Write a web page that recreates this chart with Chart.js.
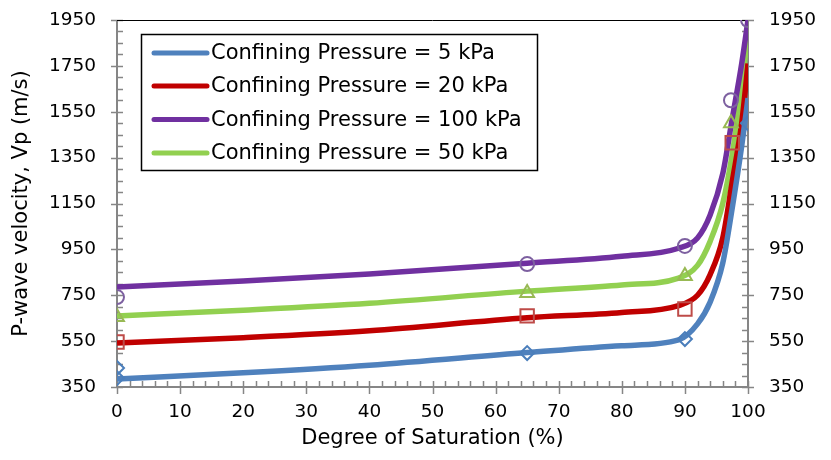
<!DOCTYPE html>
<html><head><meta charset="utf-8">
<script src="https://cdn.jsdelivr.net/npm/chart.js@4/dist/chart.umd.min.js"></script>
<style>html,body{margin:0;padding:0;background:#fff;} canvas{display:block;}</style>
</head><body>
<canvas id="c" width="831" height="460"></canvas>
<script>
// ---- data ----
const seriesLabels = ['Confining Pressure = 5 kPa', 'Confining Pressure = 20 kPa', 'Confining Pressure = 100 kPa', 'Confining Pressure = 50 kPa'];
const curveX    = [0, 20, 40, 65, 80, 89, 92, 94, 96, 97.5, 99, 100];
const curve5    = [385, 412, 445, 500, 530, 555, 625, 720, 890, 1130, 1400, 1610];
const curve20   = [542, 565, 595, 652, 675, 705, 750, 840, 1000, 1245, 1500, 1760];
const curve100  = [786, 812, 843, 890, 920, 955, 1000, 1100, 1280, 1520, 1760, 1950];
const curve50   = [660, 685, 715, 768, 795, 825, 880, 985, 1150, 1365, 1660, 1895];
const meas5X    = [0, 0, 65, 90, 100];
const meas5Y    = [433, 389, 498, 559, 1500];
const meas20X   = [0, 65, 90, 97.5];
const meas20Y   = [546, 660, 690, 1415];
const meas100X  = [0, 65, 90, 97.3, 100];
const meas100Y  = [742, 886, 965, 1600, 1950];
const meas50X   = [0, 65, 90, 97.3];
const meas50Y   = [655, 760, 834, 1500];
const xTickValues = [0, 10, 20, 30, 40, 50, 60, 70, 80, 90, 100];
const yTickValues = [350, 550, 750, 950, 1150, 1350, 1550, 1750, 1950];
const xTitle = 'Degree of Saturation (%)';
const yTitle = 'P-wave velocity, Vp (m/s)';

const FONT = '"DejaVu Sans"';
const FSIZE = 18.5;
const TSIZE = 21;
const pts = (xs, ys) => xs.map((x, i) => ({x, y: ys[i]}));
const lineColors = ['#4f81bd', '#c00000', '#7030a0', '#92d050'];
const markColors = ['#4a7ebb', '#be4b48', '#7d60a0', '#98b954'];

function lineDs(i, ys) {
  return {label: seriesLabels[i], data: pts(curveX, ys), showLine: true, borderColor: lineColors[i],
    backgroundColor: lineColors[i], borderWidth: 5.5, pointRadius: 0, cubicInterpolationMode: 'monotone',
    yAxisID: 'y', order: 10 + i};
}
function markDs(i, xs, ys, style, r) {
  return {label: seriesLabels[i] + ' (data)', data: pts(xs, ys), showLine: false, pointStyle: style,
    pointRadius: r, pointBorderWidth: 2, pointBorderColor: markColors[i], pointBackgroundColor: 'rgba(0,0,0,0)',
    yAxisID: 'y', order: 1 + i};
}

const decor = {
  id: 'decor',
  beforeDatasetsDraw(chart) {
    const {ctx, chartArea: a, scales} = chart;
    const x = scales.x, y = scales.y;
    ctx.save();
    ctx.strokeStyle = '#868686';
    ctx.lineWidth = 1.5;
    ctx.beginPath();
    for (let v = 0; v <= 100; v += 2) {
      const px = Math.round(x.getPixelForValue(v)) + 0.5;
      const major = v % 10 === 0;
      ctx.moveTo(px, a.bottom - 6);
      ctx.lineTo(px, a.bottom + (major ? 7 : 0));
    }
    for (let v = 350; v <= 1950; v += 50) {
      const py = Math.round(y.getPixelForValue(v)) + 0.5;
      const major = (v - 350) % 200 === 0;
      ctx.moveTo(a.left - (major ? 6 : 0), py);
      ctx.lineTo(a.left + 6, py);
      ctx.moveTo(a.right - 6, py);
      ctx.lineTo(a.right + (major ? 6 : 0), py);
    }
    ctx.stroke();
    ctx.lineWidth = 2;
    ctx.beginPath();
    ctx.moveTo(a.left, a.top); ctx.lineTo(a.left, a.bottom);
    ctx.moveTo(a.right, a.top); ctx.lineTo(a.right, a.bottom);
    ctx.moveTo(a.left - 1, a.bottom); ctx.lineTo(a.right + 1, a.bottom);
    ctx.stroke();
    ctx.strokeStyle = '#000';
    ctx.lineWidth = 1;
    ctx.beginPath();
    ctx.moveTo(a.left, a.top + 0.5); ctx.lineTo(a.right, a.top + 0.5);
    ctx.stroke();
    ctx.restore();
  },
  afterDraw(chart) {
    const {ctx} = chart;
    ctx.save();
    const bx = 141.5, by = 34.5, bw = 396, bh = 136;
    ctx.fillStyle = '#fff';
    ctx.fillRect(bx, by, bw, bh);
    ctx.strokeStyle = '#000';
    ctx.lineWidth = 1.5;
    ctx.strokeRect(bx, by, bw, bh);
    const rows = [53, 86, 119.5, 153];
    ctx.font = TSIZE + 'px ' + FONT;
    ctx.textBaseline = 'middle';
    ctx.textAlign = 'left';
    seriesLabels.forEach((t, i) => {
      ctx.strokeStyle = lineColors[i];
      ctx.lineWidth = 5;
      ctx.lineCap = 'round';
      ctx.beginPath();
      ctx.moveTo(154, rows[i]); ctx.lineTo(207, rows[i]);
      ctx.stroke();
      ctx.fillStyle = '#000';
      ctx.fillText(t, 211, rows[i] + 1);
    });
    ctx.restore();
  }
};

const tickFont = {family: FONT, size: FSIZE};
const titleFont = {family: FONT, size: TSIZE};
const plain = v => String(v);
const fitY = w => s => { s.width = w; s.paddingTop = 0; s.paddingBottom = 0; };
new Chart(document.getElementById('c'), {
  type: 'scatter',
  data: {datasets: [
    markDs(0, meas5X, meas5Y, 'rectRot', 7),
    markDs(1, meas20X, meas20Y, 'rect', 9.5),
    markDs(2, meas100X, meas100Y, 'circle', 7),
    markDs(3, meas50X, meas50Y, 'triangle', 8),
    lineDs(0, curve5), lineDs(1, curve20), lineDs(2, curve100), lineDs(3, curve50)
  ]},
  options: {
    responsive: false, animation: false, devicePixelRatio: 1,
    layout: {padding: {top: 20, left: 0, right: 0, bottom: 0}},
    plugins: {legend: {display: false}, tooltip: {enabled: false}},
    scales: {
      x: {type: 'linear', position: 'bottom', min: 0, max: 100,
        afterBuildTicks: s => { s.ticks = xTickValues.map(v => ({value: v})); },
        afterFit: s => { s.height = 73; },
        grid: {display: false, drawTicks: false, tickLength: 0}, border: {display: false},
        ticks: {color: '#000', font: tickFont, padding: 14, maxRotation: 0, autoSkip: false, callback: plain},
        title: {display: true, text: xTitle, color: '#000', font: titleFont, padding: {top: 0, bottom: 9}}},
      y: {type: 'linear', position: 'left', min: 350, max: 1950,
        afterBuildTicks: s => { s.ticks = yTickValues.map(v => ({value: v})); },
        afterFit: fitY(117),
        grid: {display: false, drawTicks: false, tickLength: 0}, border: {display: false},
        ticks: {color: '#000', font: tickFont, padding: 21, autoSkip: false, callback: plain},
        title: {display: true, text: yTitle, color: '#000', font: titleFont, padding: {top: 9, bottom: 0}}},
      y2: {type: 'linear', position: 'right', min: 350, max: 1950,
        afterBuildTicks: s => { s.ticks = yTickValues.map(v => ({value: v})); },
        afterFit: fitY(83),
        grid: {display: false, drawTicks: false, tickLength: 0}, border: {display: false},
        ticks: {color: '#000', font: tickFont, padding: 21, autoSkip: false, callback: plain}}
    }
  },
  plugins: [decor]
});
</script>
</body></html>
